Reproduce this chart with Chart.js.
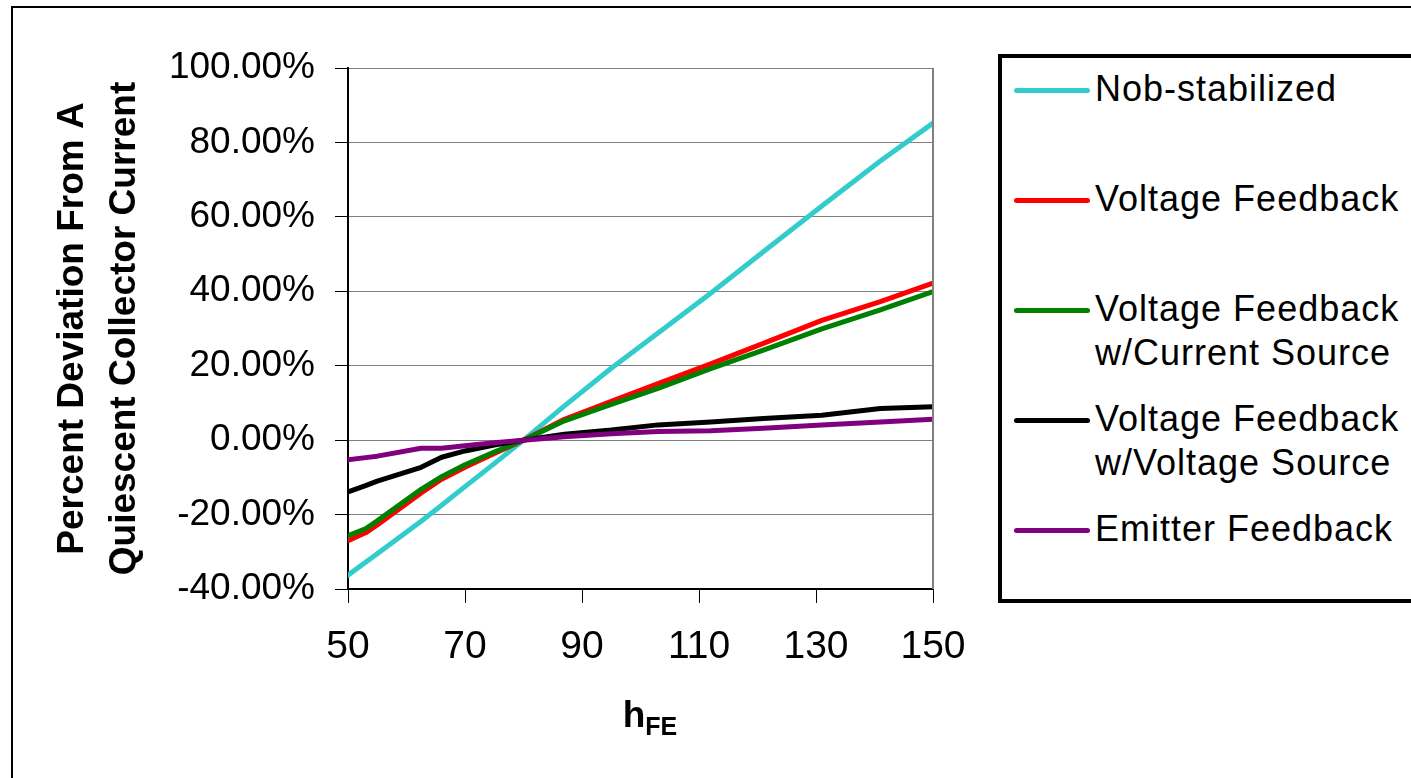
<!DOCTYPE html>
<html>
<head>
<meta charset="utf-8">
<script src="https://cdn.jsdelivr.net/npm/chart.js@4.4.0/dist/chart.umd.min.js"></script>
<style>
  html, body { margin: 0; padding: 0; width: 1411px; height: 778px; overflow: hidden; background: #fff; }
  #wrap { position: relative; width: 1411px; height: 778px; }
  #c { position: absolute; left: 0; top: 0; }
  #frame { position: absolute; left: 11px; top: 6px; width: 1500px; height: 900px; border-left: 2px solid #000; border-top: 2px solid #000; }
  #legend { position: absolute; left: 998px; top: 54px; width: 520px; height: 541px; border: 4px solid #000; background: #fff; }
  .item { position: absolute; left: 0; }
  .mark { position: absolute; left: 12px; width: 76px; height: 5px; border-radius: 2.5px; }
  .lab { position: absolute; left: 93px; top: 0; font-family: 'Liberation Sans', Arial, sans-serif; font-size: 36px; letter-spacing: 1px; line-height: 44px; color: #000; white-space: nowrap; }
  #xtitle { position: absolute; left: 0; width: 1300px; text-align: center; top: 694px; font-family: 'Liberation Sans', Arial, sans-serif; font-weight: bold; font-size: 37px; color: #000; }
  #xtitle sub { font-size: 25px; vertical-align: -8px; }
</style>
</head>
<body>
<div id="wrap">
  <div id="frame"></div>
  <canvas id="c" width="1411" height="778"></canvas>
  <div id="legend"></div>
  <div id="xtitle"></div>
</div>
<script>
// ---- data ----
const hfe = [50, 53, 55, 62.5, 66, 70, 75, 80, 87, 95, 103, 112, 121, 131, 141, 150];
const nobStabilized = [-36.3, -32.8, -30.5, -21.8, -17.5, -12.5, -6.3, 0, 9.2, 19.3, 28.8, 39.5, 50.6, 62.9, 75.0, 85.2];
const voltageFeedback = [-27.0, -24.9, -22.8, -14.2, -10.5, -7.3, -3.6, 0, 5.6, 10.4, 15.2, 20.5, 26.0, 32.2, 37.2, 42.2];
const vfCurrentSource = [-25.7, -23.8, -21.7, -13.2, -9.8, -6.6, -3.2, 0, 5.2, 9.6, 13.9, 19.2, 24.2, 29.9, 35.0, 39.9];
const vfVoltageSource = [-13.9, -12.2, -11.0, -7.3, -4.6, -2.9, -1.3, 0, 1.6, 2.7, 4.1, 4.9, 5.8, 6.7, 8.5, 9.0];
const emitterFeedback = [-5.3, -4.7, -4.3, -2.2, -2.2, -1.5, -0.7, 0, 0.9, 1.7, 2.3, 2.5, 3.2, 4.05, 4.9, 5.6];
const seriesNames = ['Nob-stabilized', 'Voltage Feedback', 'Voltage Feedback\nw/Current Source', 'Voltage Feedback\nw/Voltage Source', 'Emitter Feedback'];
const seriesColors = ['#33CCCC', '#FF0000', '#008000', '#000000', '#800080'];
const yTitle = ['Percent Deviation From A', 'Quiescent Collector Current'];
const xTitleMain = 'h';
const xTitleSub = 'FE';
const xMin = 50, xMax = 150, xStep = 20;
const yMin = -40, yMax = 100, yStep = 20;

const seriesValues = [nobStabilized, voltageFeedback, vfCurrentSource, vfVoltageSource, emitterFeedback];

const FONT = "'Liberation Sans', Arial, sans-serif";

const datasets = seriesValues.map((vals, i) => ({
  label: seriesNames[i],
  data: vals.map((v, j) => ({ x: hfe[j], y: v })),
  borderColor: seriesColors[i],
  backgroundColor: seriesColors[i],
  borderWidth: 5,
  pointRadius: 0,
  tension: 0,
  fill: false,
  borderCapStyle: 'round',
  borderJoinStyle: 'round',
  order: seriesValues.length - i
}));

const plotBorder = {
  id: 'plotBorder',
  afterDatasetsDraw(chart) {
    const { ctx, chartArea: a } = chart;
    ctx.save();
    ctx.strokeStyle = '#808080';
    ctx.lineWidth = 2;
    ctx.beginPath();
    ctx.moveTo(a.right, a.top);
    ctx.lineTo(a.right, a.bottom);
    ctx.stroke();
    ctx.restore();
  }
};

new Chart(document.getElementById('c'), {
  type: 'line',
  data: { datasets },
  plugins: [plotBorder],
  options: {
    responsive: false,
    animation: false,
    devicePixelRatio: 1,
    layout: { padding: { left: 0, top: 68, right: 478, bottom: 0 } },
    plugins: { legend: { display: false }, tooltip: { enabled: false } },
    scales: {
      x: {
        type: 'linear',
        min: xMin, max: xMax,
        afterFit(scale) { scale.height = 189; },
        ticks: { stepSize: xStep, color: '#000', padding: 21, font: { family: FONT, size: 39 } },
        grid: { drawOnChartArea: false, drawTicks: true, tickLength: 14, tickColor: '#000', color: '#000' },
        border: { display: true, color: '#000', width: 2 }
      },
      y: {
        type: 'linear',
        min: yMin, max: yMax,
        afterFit(scale) { scale.width = 348; },
        ticks: { stepSize: yStep, color: '#000', padding: 20, font: { family: FONT, size: 37 },
                 callback: (v) => v.toFixed(2) + '%' },
        grid: { color: '#808080', lineWidth: 1, tickLength: 13, tickColor: '#000' },
        border: { display: true, color: '#000', width: 2 },
        title: { display: true, text: yTitle, color: '#000', padding: { top: 47, bottom: 0 },
                 font: { family: FONT, size: 37, weight: 'bold', lineHeight: 1.405 } }
      }
    }
  }
});

// legend
const legend = document.getElementById('legend');
seriesNames.forEach((name, i) => {
  const item = document.createElement('div');
  item.className = 'item';
  item.style.top = (9 + i * 110) + 'px';
  const mark = document.createElement('div');
  mark.className = 'mark';
  mark.style.background = seriesColors[i];
  mark.style.top = '21px';
  const lab = document.createElement('div');
  lab.className = 'lab';
  name.split('\n').forEach((line, k) => {
    if (k) lab.appendChild(document.createElement('br'));
    lab.appendChild(document.createTextNode(line));
  });
  item.appendChild(mark);
  item.appendChild(lab);
  legend.appendChild(item);
});

const xt = document.getElementById('xtitle');
xt.appendChild(document.createTextNode(xTitleMain));
const sub = document.createElement('sub');
sub.textContent = xTitleSub;
xt.appendChild(sub);
</script>
</body>
</html>
